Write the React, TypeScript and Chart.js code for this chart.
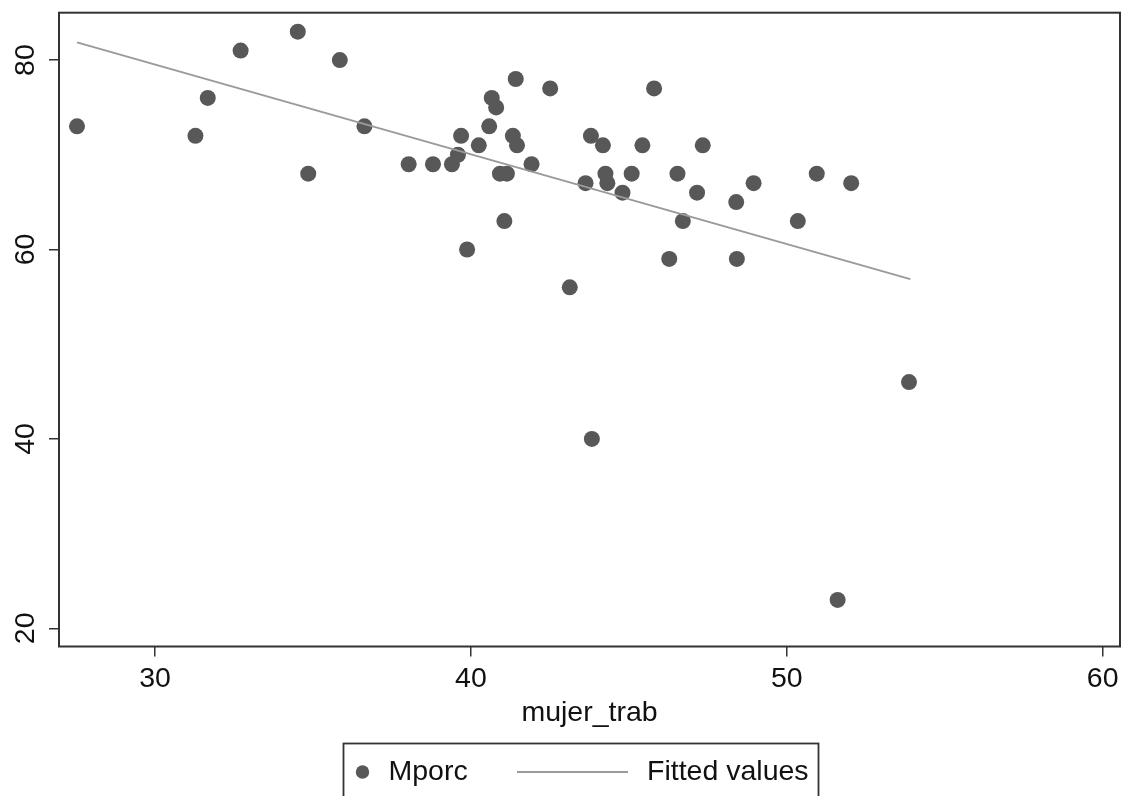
import React, { useEffect, useRef } from "react";
import { Chart, registerables } from "chart.js";

Chart.register(...registerables);

// ---- data ----
const xTitle = "mujer_trab";
const seriesNames = ["Mporc", "Fitted values"];
const mujerTrab = [
  27.53, 31.28, 31.67, 32.71, 34.52, 34.85, 35.85, 36.63, 38.03, 38.8,
  39.4, 39.59, 39.69, 39.88, 40.25, 40.58, 40.66, 40.8, 40.92, 41.14,
  41.06, 41.33, 41.42, 41.46, 41.92, 42.51, 43.13, 43.63, 43.8, 43.83,
  44.18, 44.26, 44.32, 44.8, 45.09, 45.43, 45.8, 46.28, 46.54, 46.71,
  47.16, 47.34, 48.4, 48.42, 48.95, 50.35, 50.95, 51.61, 52.04, 53.87,
];
const mporc = [
  73, 72, 76, 81, 83, 68, 80, 73, 69, 69,
  69, 70, 72, 60, 71, 73, 76, 75, 68, 68,
  63, 72, 78, 71, 69, 77, 56, 67, 72, 40,
  71, 68, 67, 66, 68, 71, 77, 59, 68, 63,
  66, 71, 65, 59, 67, 63, 68, 23, 67, 46,
];
const fittedX = [27.53, 53.91];
const fittedY = [81.87, 56.87];
const xTicks = [30, 40, 50, 60];
const yTicks = [20, 40, 60, 80];
const xRange = [26.96, 60.55];
const yRange = [18.08, 85.0];

const FONT = "'Liberation Sans', Arial, Helvetica, sans-serif";
const FONT_SIZE = 28.5;
const POINT_COLOR = "#585858";
const LINE_COLOR = "#9a9a9a";
const FRAME_COLOR = "#333333";

const framePlugin = {
  id: "frame",
  beforeDatasetsDraw(chart: any) {
    const { ctx, chartArea } = chart;
    ctx.save();
    ctx.strokeStyle = FRAME_COLOR;
    ctx.lineWidth = 2;
    ctx.strokeRect(
      chartArea.left,
      chartArea.top,
      chartArea.right - chartArea.left,
      chartArea.bottom - chartArea.top
    );
    ctx.restore();
  },
};

const legendPlugin = {
  id: "stataLegend",
  afterDraw(chart: any) {
    const { ctx } = chart;
    ctx.save();
    const boxLeft = 343.5;
    const boxTop = 743.5;
    const boxRight = 818.5;
    const cy = 772;
    ctx.strokeStyle = FRAME_COLOR;
    ctx.lineWidth = 1.8;
    ctx.strokeRect(boxLeft, boxTop, boxRight - boxLeft, 80);
    // marker
    ctx.fillStyle = POINT_COLOR;
    ctx.beginPath();
    ctx.arc(boxLeft + 19, cy, 6.7, 0, Math.PI * 2);
    ctx.fill();
    ctx.font = `${FONT_SIZE}px ${FONT}`;
    ctx.fillStyle = "#111";
    ctx.textBaseline = "middle";
    ctx.textAlign = "left";
    ctx.fillText(seriesNames[0], boxLeft + 45, cy);
    // line sample
    ctx.strokeStyle = LINE_COLOR;
    ctx.lineWidth = 2;
    ctx.beginPath();
    ctx.moveTo(517, cy);
    ctx.lineTo(628, cy);
    ctx.stroke();
    ctx.fillText(seriesNames[1], 647, cy);
    ctx.restore();
  },
};

export default function App() {
  const canvasRef = useRef<HTMLCanvasElement | null>(null);

  useEffect(() => {
    const canvas = canvasRef.current;
    if (!canvas) return;
    const font = { family: FONT, size: FONT_SIZE };
    const chart = new Chart(canvas, {
      type: "scatter",
      data: {
        datasets: [
          {
            label: seriesNames[0],
            data: mujerTrab.map((x, i) => ({ x, y: mporc[i] })),
            backgroundColor: POINT_COLOR,
            borderWidth: 0,
            pointRadius: 8,
            pointHoverRadius: 8,
            order: 2,
          },
          {
            type: "line",
            label: seriesNames[1],
            data: fittedX.map((x, i) => ({ x, y: fittedY[i] })),
            borderColor: LINE_COLOR,
            borderWidth: 2,
            pointRadius: 0,
            showLine: true,
            fill: false,
            order: 1,
          } as any,
        ],
      },
      options: {
        animation: false,
        responsive: false,
        devicePixelRatio: 1,
        layout: {
          autoPadding: false,
          padding: { top: 12.7, right: 2, left: 0, bottom: 0 },
        },
        plugins: {
          legend: { display: false },
          tooltip: { enabled: false },
        },
        scales: {
          x: {
            type: "linear",
            min: xRange[0],
            max: xRange[1],
            afterBuildTicks: (s: any) => {
              s.ticks = xTicks.map((v) => ({ value: v }));
            },
            afterFit: (s: any) => {
              s.height = 796 - 646.5;
              s.paddingLeft = 0;
              s.paddingRight = 0;
            },
            grid: {
              display: true,
              drawOnChartArea: false,
              drawTicks: true,
              tickLength: 10,
              color: FRAME_COLOR,
              lineWidth: 1.5,
            },
            border: { display: false },
            ticks: {
              font,
              color: "#111",
              padding: 5.5,
              maxRotation: 0,
              minRotation: 0,
              autoSkip: false,
            },
            title: {
              display: true,
              text: xTitle,
              font,
              color: "#111",
              padding: { top: 0, bottom: 66 },
            },
          },
          y: {
            type: "linear",
            min: yRange[0],
            max: yRange[1],
            afterBuildTicks: (s: any) => {
              s.ticks = yTicks.map((v) => ({ value: v }));
            },
            afterFit: (s: any) => {
              s.width = 59;
              s.paddingTop = 0;
              s.paddingBottom = 0;
            },
            grid: {
              display: true,
              drawOnChartArea: false,
              drawTicks: true,
              tickLength: 10,
              color: FRAME_COLOR,
              lineWidth: 1.5,
            },
            border: { display: false },
            ticks: {
              font,
              color: "#111",
              padding: 7,
              minRotation: 90,
              maxRotation: 90,
              crossAlign: "center",
              autoSkip: false,
            },
          },
        },
      } as any,
      plugins: [framePlugin, legendPlugin],
    });
    return () => chart.destroy();
  }, []);

  return (
    <div
      style={{
        position: "absolute",
        left: 0,
        top: 0,
        width: 1122,
        height: 796,
        background: "#fff",
        overflow: "hidden",
      }}
    >
      <canvas
        ref={canvasRef}
        width={1122}
        height={796}
        style={{ display: "block", width: 1122, height: 796 }}
      />
    </div>
  );
}
